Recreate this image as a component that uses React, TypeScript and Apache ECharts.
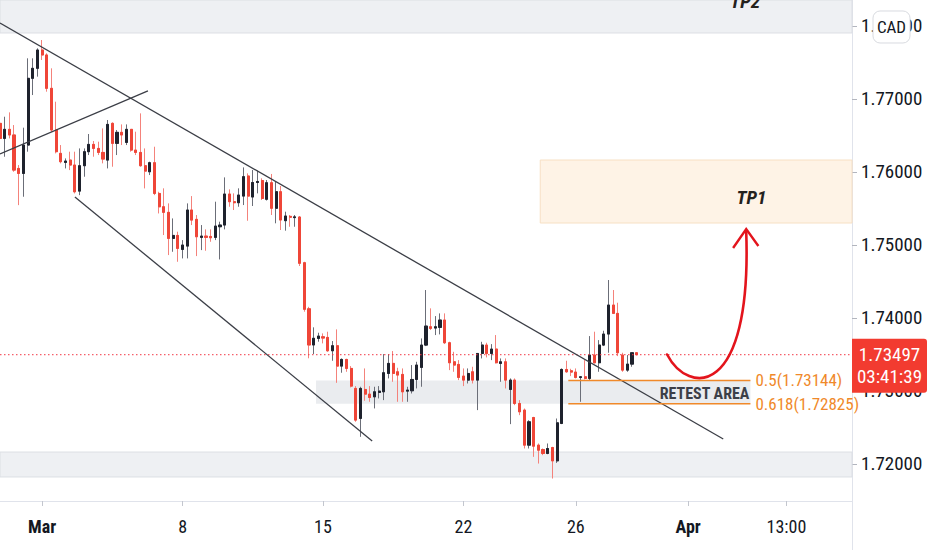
import React, { useEffect, useRef } from 'react';
import * as echarts from 'echarts';

// ---------- data ----------
const SLOT_COUNT = 183; // 4-hour slots across the visible time axis
const slots: string[] = Array.from({ length: SLOT_COUNT }, (_, i) => String(i));

// time-axis tick labels (slot index -> label)
const timeTicks = [
  { slot: 9, label: 'Mar', month: true },
  { slot: 39, label: '8', month: false },
  { slot: 69, label: '15', month: false },
  { slot: 99, label: '22', month: false },
  { slot: 123, label: '26', month: false },
  { slot: 147, label: 'Apr', month: true },
  { slot: 168, label: '13:00', month: false },
];

// price-axis tick labels
const priceTicks = [1.72, 1.73, 1.74, 1.75, 1.76, 1.77, 1.78];
const priceMin = 1.71493;
const priceMax = 1.78356;

// 4H candles: [open, high, low, close]
const candles: number[][] = [
  [1.76666, 1.77146, 1.76346, 1.7646],
  [1.7646, 1.76757, 1.76209, 1.76584],
  [1.76584, 1.76817, 1.7646, 1.76507],
  [1.76507, 1.76643, 1.76003, 1.76026],
  [1.76049, 1.76095, 1.75546, 1.7598],
  [1.7598, 1.76607, 1.75661, 1.76369],
  [1.76369, 1.77557, 1.76278, 1.77283],
  [1.77283, 1.77557, 1.77054, 1.7742],
  [1.7742, 1.77694, 1.77306, 1.77671],
  [1.77671, 1.77808, 1.77534, 1.77603],
  [1.77603, 1.77626, 1.771, 1.77146],
  [1.77146, 1.7742, 1.76552, 1.76575],
  [1.76575, 1.76963, 1.76255, 1.76278],
  [1.76255, 1.76369, 1.76118, 1.76141],
  [1.76131, 1.76186, 1.76049, 1.7615],
  [1.76163, 1.76278, 1.76026, 1.76095],
  [1.76095, 1.76278, 1.75706, 1.75729],
  [1.75738, 1.76323, 1.75683, 1.76086],
  [1.76086, 1.76323, 1.75935, 1.76278],
  [1.76278, 1.7652, 1.76232, 1.76378],
  [1.76378, 1.76424, 1.76209, 1.76323],
  [1.76323, 1.76415, 1.76232, 1.76268],
  [1.76268, 1.76597, 1.76118, 1.76177],
  [1.76163, 1.76712, 1.76049, 1.76652],
  [1.76666, 1.7668, 1.76072, 1.76392],
  [1.76392, 1.76575, 1.76232, 1.76543],
  [1.76543, 1.76652, 1.76369, 1.76507],
  [1.76405, 1.76652, 1.76369, 1.76584],
  [1.76584, 1.76584, 1.76278, 1.763],
  [1.763, 1.76552, 1.76232, 1.76268],
  [1.76268, 1.76803, 1.76072, 1.76086],
  [1.76086, 1.76323, 1.75775, 1.76012],
  [1.76003, 1.76141, 1.75958, 1.76127],
  [1.76127, 1.76346, 1.75683, 1.75706],
  [1.75706, 1.75729, 1.75432, 1.75523],
  [1.75524, 1.75776, 1.75136, 1.75447],
  [1.75447, 1.7557, 1.74862, 1.7509],
  [1.7509, 1.75364, 1.74907, 1.75131],
  [1.75131, 1.75182, 1.7477, 1.74953],
  [1.74939, 1.75067, 1.74816, 1.74999],
  [1.74985, 1.7557, 1.74816, 1.75479],
  [1.75479, 1.7567, 1.75273, 1.75341],
  [1.75351, 1.7541, 1.74848, 1.75113],
  [1.75104, 1.75273, 1.7493, 1.75122],
  [1.75122, 1.75214, 1.74921, 1.75104],
  [1.75117, 1.75214, 1.75044, 1.75099],
  [1.75104, 1.75593, 1.75067, 1.75259],
  [1.7525, 1.75319, 1.74802, 1.75273],
  [1.75273, 1.75926, 1.75214, 1.75698],
  [1.75698, 1.75762, 1.75524, 1.75593],
  [1.75593, 1.75707, 1.75479, 1.75579],
  [1.75579, 1.75776, 1.75524, 1.75684],
  [1.7567, 1.76063, 1.75547, 1.75936],
  [1.75945, 1.75981, 1.75332, 1.7567],
  [1.75657, 1.76027, 1.75534, 1.75856],
  [1.75856, 1.76018, 1.75707, 1.7587],
  [1.75883, 1.75913, 1.75616, 1.75637],
  [1.75626, 1.7589, 1.75609, 1.75853],
  [1.75853, 1.75973, 1.75411, 1.75503],
  [1.75503, 1.75867, 1.75297, 1.7573],
  [1.7573, 1.75808, 1.75205, 1.75342],
  [1.75333, 1.75456, 1.75196, 1.75397],
  [1.75392, 1.75411, 1.7525, 1.7538],
  [1.75375, 1.75411, 1.7525, 1.75385],
  [1.75383, 1.75397, 1.74712, 1.74749],
  [1.74757, 1.7477, 1.74086, 1.74119],
  [1.74126, 1.74153, 1.73448, 1.7363],
  [1.7363, 1.73872, 1.73506, 1.73722],
  [1.7372, 1.73798, 1.73675, 1.73752],
  [1.73743, 1.73789, 1.73652, 1.73725],
  [1.73734, 1.73812, 1.73537, 1.73551],
  [1.73551, 1.73684, 1.73414, 1.7362],
  [1.7362, 1.73844, 1.73112, 1.73341],
  [1.73341, 1.73446, 1.7325, 1.73432],
  [1.73432, 1.73441, 1.73263, 1.73309],
  [1.73309, 1.73341, 1.73049, 1.73067],
  [1.73035, 1.73067, 1.72578, 1.72601],
  [1.72624, 1.73058, 1.72372, 1.73035],
  [1.73021, 1.73309, 1.72866, 1.72957],
  [1.72957, 1.73067, 1.72852, 1.72911],
  [1.7292, 1.73058, 1.72761, 1.72989],
  [1.7298, 1.73067, 1.72898, 1.72998],
  [1.72989, 1.73505, 1.72875, 1.7325],
  [1.7324, 1.73505, 1.73172, 1.73378],
  [1.73378, 1.73547, 1.73126, 1.7324],
  [1.73263, 1.73318, 1.72852, 1.73218],
  [1.73227, 1.73309, 1.72852, 1.72989],
  [1.72998, 1.73058, 1.72852, 1.73012],
  [1.73003, 1.73355, 1.72966, 1.73158],
  [1.73158, 1.734, 1.73035, 1.73355],
  [1.73323, 1.7372, 1.73058, 1.73629],
  [1.73629, 1.74383, 1.73615, 1.73889],
  [1.7388, 1.74132, 1.73835, 1.73857],
  [1.73862, 1.74026, 1.73766, 1.7388],
  [1.73871, 1.74063, 1.73775, 1.73972],
  [1.73972, 1.74063, 1.73643, 1.73661],
  [1.73661, 1.73675, 1.73286, 1.73387],
  [1.734, 1.73537, 1.73263, 1.73355],
  [1.73364, 1.73423, 1.73149, 1.73186],
  [1.73204, 1.73309, 1.73067, 1.73149],
  [1.73149, 1.73309, 1.73103, 1.7324],
  [1.73263, 1.73332, 1.73103, 1.73149],
  [1.73149, 1.73514, 1.72738, 1.73514],
  [1.73514, 1.73674, 1.73446, 1.73629],
  [1.73629, 1.73661, 1.7346, 1.73514],
  [1.73514, 1.73642, 1.73423, 1.73574],
  [1.73574, 1.73766, 1.73377, 1.73387],
  [1.73377, 1.73446, 1.73126, 1.734],
  [1.734, 1.73446, 1.73035, 1.73149],
  [1.73021, 1.73172, 1.72546, 1.73149],
  [1.73149, 1.73172, 1.72806, 1.72829],
  [1.72829, 1.72875, 1.72669, 1.72715],
  [1.72738, 1.7276, 1.72212, 1.72258],
  [1.72258, 1.726, 1.72212, 1.72578],
  [1.72637, 1.72646, 1.72098, 1.72244],
  [1.72258, 1.72281, 1.72006, 1.72189],
  [1.72198, 1.72212, 1.72121, 1.72144],
  [1.72144, 1.72281, 1.72134, 1.72212],
  [1.72226, 1.72235, 1.71801, 1.72043],
  [1.72043, 1.72623, 1.72015, 1.72564],
  [1.72555, 1.73309, 1.72546, 1.73295],
  [1.73295, 1.73414, 1.73249, 1.73263],
  [1.73277, 1.73304, 1.73204, 1.73259],
  [1.73259, 1.73309, 1.73172, 1.73185],
  [1.73185, 1.73204, 1.72852, 1.73195],
  [1.73195, 1.73423, 1.73158, 1.73172],
  [1.73172, 1.73752, 1.73149, 1.73492],
  [1.73492, 1.73812, 1.73377, 1.73387],
  [1.73387, 1.73697, 1.73263, 1.73629],
  [1.73629, 1.73825, 1.73615, 1.7378],
  [1.7378, 1.7452, 1.73524, 1.74177],
  [1.74177, 1.74383, 1.74054, 1.74063],
  [1.74063, 1.74209, 1.73478, 1.73524],
  [1.73492, 1.73524, 1.73263, 1.73286],
  [1.73286, 1.73492, 1.73263, 1.73368],
  [1.73368, 1.73524, 1.73332, 1.73524],
  [1.73524, 1.7353, 1.7349, 1.73497],
];

const lastPrice = 1.73497;
const countdown = '03:41:39';
const currency = 'CAD';

// annotation zones: [fromSlot, toSlot, lowPrice, highPrice]
const zoneTP2 = [0, 182, 1.77904, 1.78356];
const zoneSupport = [0, 182, 1.71822, 1.72164];
const zoneTP1 = [115.4, 182, 1.75301, 1.76164];
const zoneRetest = [67.5, 160.3, 1.72825, 1.73144];

// fibonacci retracement levels: [ratio, price]
const fibLevels: [string, number][] = [['0.5', 1.73144], ['0.618', 1.72825]];
const fibSpan = [121.4, 160.3];

// trend lines: [slotA, priceA, slotB, priceB]
const trendLines = [
  [0, 1.78041, 154.5, 1.72342],
  [16.0, 1.75658, 79.5, 1.72315],
  [0, 1.76247, 31.6, 1.7711],
];

// projected move (bezier) : start, control1, control2, end as [slot, price]
const projection = [[142.5, 1.735], [147.0, 1.72945], [160.7, 1.72877], [159.4, 1.75192]];
const arrowHead = [[156.6, 1.74959], [159.4, 1.75219], [162.0, 1.74986]];

const tp1Label = { slot: 160.5, price: 1.75644, text: 'TP1' };
const tp2Label = { slot: 159.2, price: 1.78342, text: 'TP2' };
const retestLabel = 'RETEST AREA';

// ---------- styling ----------
const FONT = "'Liberation Sans Narrow', 'Roboto Condensed', Roboto, sans-serif";
const TEXT = '#131722';
const UP = '#1e222d';
const DOWN = '#ef4638';

export default function App() {
  const ref = useRef<HTMLDivElement>(null);

  useEffect(() => {
    const el = ref.current as HTMLDivElement;
    const chart = echarts.init(el, null, { renderer: 'svg' });
    const tickSet = new Set(timeTicks.map((t) => t.slot));
    const tickMap = new Map(timeTicks.map((t) => [t.slot, t]));

    chart.setOption({
      animation: false,
      backgroundColor: '#ffffff',
      grid: { left: 0, right: 80, top: 0, bottom: 49, containLabel: false },
      xAxis: {
        type: 'category',
        data: slots,
        boundaryGap: false,
        axisLine: { show: true, lineStyle: { color: '#e0e3eb', width: 1 } },
        axisTick: {
          show: true,
          interval: (i: number) => tickSet.has(i),
          length: 5,
          lineStyle: { color: '#c3c6ce' },
        },
        axisLabel: {
          interval: (i: number) => tickSet.has(i),
          margin: 16,
          color: TEXT,
          fontSize: 18,
          fontFamily: FONT,
          formatter: (_v: string, i: number) => {
            const t = tickMap.get(i);
            if (!t) return '';
            return t.month ? `{b|${t.label}}` : t.label;
          },
          rich: { b: { fontWeight: 'bold', fontSize: 18, fontFamily: FONT, color: TEXT } },
        },
        splitLine: { show: false },
      },
      yAxis: {
        type: 'value',
        position: 'right',
        min: priceMin,
        max: priceMax,
        splitLine: { show: false },
        axisLine: { show: true, lineStyle: { color: '#e0e3eb' } },
        axisTick: { show: true, length: 5, customValues: priceTicks, lineStyle: { color: '#b2b5be' } },
        axisLabel: {
          customValues: priceTicks,
          formatter: (v: number) => v.toFixed(5),
          color: TEXT,
          fontSize: 19,
          fontFamily: FONT,
          margin: 9,
        },
      },
      series: [
        {
          name: 'wicks',
          type: 'candlestick',
          data: candles.map(([o, h, l, c]) => [o, c, l, h]),
          barWidth: 2.6,
          z: 3,
          itemStyle: {
            color: 'rgba(0,0,0,0)',
            color0: 'rgba(0,0,0,0)',
            borderColor: '#6b6e78',
            borderColor0: '#f4827b',
            borderWidth: 1,
          },
          silent: true,
        },
        {
          name: 'bodies',
          type: 'candlestick',
          data: candles.map(([o, , , c]) => [o, c, Math.min(o, c), Math.max(o, c)]),
          barWidth: 2.6,
          z: 4,
          itemStyle: { color: UP, color0: DOWN, borderColor: UP, borderColor0: DOWN, borderWidth: 1 },
          silent: true,
        },
      ],
    });

    const x0 = chart.convertToPixel({ xAxisIndex: 0 }, 0) as number;
    const x1 = chart.convertToPixel({ xAxisIndex: 0 }, 1) as number;
    const X = (s: number) => x0 + (x1 - x0) * s;
    const Y = (p: number) => chart.convertToPixel({ yAxisIndex: 0 }, p) as number;
    const axisX = X(SLOT_COUNT - 1);
    const bottomY = Y(priceMin);

    const zoneRect = (z: number[], fill: string, stroke: string, zz: number) => ({
      type: 'rect',
      z: zz,
      silent: true,
      shape: { x: X(z[0]), y: Y(z[3]), width: X(z[1]) - X(z[0]), height: Y(z[2]) - Y(z[3]) },
      style: { fill, stroke, lineWidth: 1 },
    });

    const ly = Y(lastPrice);

    const elements: any[] = [
      zoneRect(zoneTP2, '#eef0f3', '#dcdfe4', 1),
      zoneRect(zoneSupport, '#eef0f3', '#dcdfe4', 1),
      zoneRect(zoneTP1, '#fef3e6', '#f7e0c4', 1),
      zoneRect(zoneRetest, '#eaecef', 'rgba(0,0,0,0)', 1),
      // last-price dotted line
      {
        type: 'line', z: 5, silent: true,
        shape: { x1: X(0), y1: ly, x2: axisX, y2: ly },
        style: { stroke: '#f23645', lineWidth: 1, lineDash: [1.5, 2.5] },
      },
      // axis line continuing into the time scale
      {
        type: 'line', z: 5, silent: true,
        shape: { x1: axisX + 0.5, y1: bottomY, x2: axisX + 0.5, y2: 550 },
        style: { stroke: '#e0e3eb', lineWidth: 1 },
      },
    ];

    trendLines.forEach(([sa, pa, sb, pb]) => {
      elements.push({
        type: 'line', z: 6, silent: true,
        shape: { x1: X(sa), y1: Y(pa), x2: X(sb), y2: Y(pb) },
        style: { stroke: '#3b3e46', lineWidth: 1.3 },
      });
    });

    fibLevels.forEach(([ratio, price]) => {
      elements.push({
        type: 'line', z: 6, silent: true,
        shape: { x1: X(fibSpan[0]), y1: Y(price), x2: X(fibSpan[1]), y2: Y(price) },
        style: { stroke: '#f0892a', lineWidth: 1.6 },
      });
      elements.push({
        type: 'text', z: 7, silent: true,
        x: X(fibSpan[1]) + 5, y: Y(price),
        style: {
          text: `${ratio}(${price.toFixed(5)})`,
          fill: '#f0892a',
          font: `17px ${FONT}`,
          textAlign: 'left',
          textVerticalAlign: 'middle',
        },
      });
    });

    elements.push({
      type: 'text', z: 7, silent: true,
      x: X(zoneRetest[1]) - 1, y: (Y(zoneRetest[2]) + Y(zoneRetest[3])) / 2 + 1,
      style: {
        text: retestLabel, fill: '#3c3f48', font: `bold 16px ${FONT}`,
        textAlign: 'right', textVerticalAlign: 'middle',
      },
    });

    [tp1Label, tp2Label].forEach((t) => {
      elements.push({
        type: 'text', z: 7, silent: true,
        x: X(t.slot), y: Y(t.price),
        style: {
          text: t.text, fill: '#24211c', font: `italic bold 19px ${FONT}`,
          textAlign: 'center', textVerticalAlign: 'middle',
        },
      });
    });

    const [p0, c1, c2, p1] = projection;
    elements.push({
      type: 'bezierCurve', z: 8, silent: true,
      shape: {
        x1: X(p0[0]), y1: Y(p0[1]), cpx1: X(c1[0]), cpy1: Y(c1[1]),
        cpx2: X(c2[0]), cpy2: Y(c2[1]), x2: X(p1[0]), y2: Y(p1[1]),
      },
      style: { stroke: '#e3141c', lineWidth: 2.6, fill: null, lineCap: 'round' },
    });
    elements.push({
      type: 'polyline', z: 8, silent: true,
      shape: { points: arrowHead.map(([s, p]) => [X(s), Y(p)]) },
      style: { stroke: '#e3141c', lineWidth: 2.4, fill: null, lineJoin: 'miter' },
    });

    // last price tag
    elements.push({
      type: 'rect', z: 20, silent: true,
      shape: { x: axisX, y: ly - 16, width: 75, height: 54, r: [0, 3, 3, 0] },
      style: { fill: '#f23b30' },
    });
    elements.push({
      type: 'text', z: 21, silent: true,
      x: axisX + 37.5, y: ly,
      style: { text: lastPrice.toFixed(5), fill: '#ffffff', font: `19px ${FONT}`, textAlign: 'center', textVerticalAlign: 'middle' },
    });
    elements.push({
      type: 'text', z: 21, silent: true,
      x: axisX + 37.5, y: ly + 22,
      style: { text: countdown, fill: '#ffffff', font: `19px ${FONT}`, textAlign: 'center', textVerticalAlign: 'middle' },
    });

    // currency badge
    const cy = Y(priceTicks[priceTicks.length - 1]);
    elements.push({
      type: 'rect', z: 20, silent: true,
      shape: { x: axisX + 21, y: cy - 15, width: 37, height: 32, r: 7 },
      style: { fill: '#ffffff', stroke: '#d9dbe0', lineWidth: 1 },
    });
    elements.push({
      type: 'text', z: 21, silent: true,
      x: axisX + 39.5, y: cy + 1,
      style: { text: currency, fill: TEXT, font: `17px ${FONT}`, textAlign: 'center', textVerticalAlign: 'middle' },
    });

    chart.setOption({ graphic: { elements } });

    return () => chart.dispose();
  }, []);

  return (
    <div
      ref={ref}
      style={{ position: 'fixed', left: 0, top: 0, width: 932, height: 550, background: '#ffffff' }}
    />
  );
}
